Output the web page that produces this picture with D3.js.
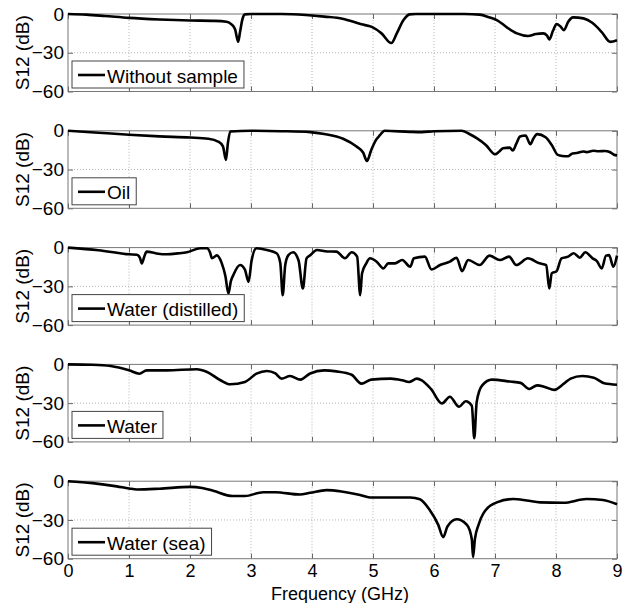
<!DOCTYPE html>
<html>
<head>
<meta charset="utf-8">
<script src="https://cdn.jsdelivr.net/npm/d3@7"></script>
<style>
  body { margin: 0; background: #fff; }
  text { font-family: "Liberation Sans", Arial, sans-serif; }
</style>
</head>
<body>
<script>
// S12 transmission curves, five samples, [frequency GHz, dB]

const labels = ["Without sample", "Oil", "Water (distilled)", "Water", "Water (sea)"];

const withoutSample = [[0,0],[0.3,-0.5],[0.6,-1.5],[1,-3],[1.5,-4.2],[2,-5],[2.4,-5.3],[2.6,-6],[2.68,-8],[2.74,-12],
  [2.79,-21.5],[2.82,-14],[2.86,-4],[2.9,-0.3],[3,0],[3.5,0],[3.9,-0.8],[4.2,-2],[4.5,-3.6],[4.81,-8],[4.98,-10],
  [5.14,-15],[5.3,-22.5],[5.39,-15],[5.5,-4.7],[5.6,-0.3],[5.7,0],[6.5,0],[6.75,-0.5],[6.9,-2.5],[7.03,-4.7],
  [7.2,-10.5],[7.36,-15],[7.54,-17],[7.67,-15.5],[7.79,-15],[7.85,-16.5],[7.89,-19.7],[7.95,-13],[8.01,-7.8],
  [8.07,-9.5],[8.13,-12.5],[8.2,-6],[8.28,-2.6],[8.45,-3.4],[8.6,-7],[8.75,-14],[8.89,-21.6],[9,-20.3]];

const oil = [[0,0],[0.5,-1.5],[1,-3],[1.5,-4.3],[2,-5.2],[2.3,-6.2],[2.46,-8.3],[2.54,-12],[2.59,-22.5],[2.62,-10],
  [2.66,-0.5],[3,0],[3.5,-0.3],[3.97,-1],[4.2,-2.5],[4.51,-6.2],[4.73,-12.2],[4.84,-17],[4.9,-23.4],[4.97,-15],
  [5.05,-7],[5.11,-3.6],[5.19,0],[5.6,-0.8],[5.8,-1],[6,-0.3],[6.45,0],[6.58,-2.5],[6.7,-5.7],[6.85,-11],[7.0,-18.2],
  [7.07,-16],[7.13,-13.5],[7.24,-13],[7.29,-15.3],[7.35,-10],[7.41,-4.4],[7.5,-3.6],[7.58,-10.4],[7.63,-6],
  [7.69,-2.6],[7.83,-5],[7.93,-11],[8.03,-18.7],[8.1,-19.5],[8.2,-19.7],[8.27,-17.5],[8.34,-17.2],[8.45,-16],
  [8.5,-16.5],[8.61,-15.4],[8.7,-15.8],[8.8,-15.6],[8.88,-16.4],[8.95,-18.5],[9,-19]];

const waterDistilled = [[0,0],[0.5,-2],[1,-5.2],[1.13,-5.5],[1.18,-8],[1.21,-12.2],[1.25,-7],[1.29,-3.1],[1.45,-4.5],
  [1.62,-5.2],[1.8,-4.5],[1.95,-3.6],[2.17,-0.5],[2.28,-0.5],[2.33,-4],[2.36,-8.3],[2.44,-6],[2.52,-12],[2.58,-22],
  [2.63,-35.6],[2.67,-26],[2.71,-21.3],[2.82,-13.5],[2.9,-17],[2.96,-26.5],[3.01,-10],[3.09,-0.5],[3.26,-1.8],
  [3.42,-4.4],[3.48,-12],[3.52,-36.9],[3.56,-14],[3.61,-6],[3.69,-3.6],[3.78,-10],[3.85,-31.7],[3.91,-8.3],
  [3.97,-6],[4.08,-1.8],[4.25,-3],[4.4,-3.1],[4.54,-8.3],[4.65,-3.6],[4.74,-7],[4.79,-36.9],[4.82,-20],[4.89,-12.2],
  [4.95,-8.3],[5.06,-10.9],[5.17,-16.1],[5.25,-12.2],[5.36,-12.2],[5.48,-9.6],[5.61,-14.8],[5.67,-8.3],[5.85,-7],
  [5.96,-17],[6.1,-13.5],[6.26,-10.9],[6.37,-7.8],[6.46,-18.2],[6.56,-9.6],[6.75,-13.5],[6.91,-6.2],[7.08,-9.6],
  [7.23,-7],[7.35,-13.5],[7.54,-8.3],[7.73,-12.2],[7.84,-13.5],[7.89,-31.7],[7.93,-20],[8.01,-18.2],[8.09,-8.3],
  [8.2,-7],[8.29,-4.4],[8.39,-7.8],[8.48,-3.6],[8.6,-8.3],[8.67,-10.4],[8.75,-16.1],[8.82,-6.2],[8.87,-5.8],
  [8.94,-14.8],[9,-6.2]];

const water = [[0,0],[0.4,-0.3],[0.7,-1.3],[1,-4.6],[1.17,-7.2],[1.29,-4.6],[1.62,-4.6],[2.11,-3.8],[2.28,-5.9],
  [2.5,-12.3],[2.66,-15.4],[2.9,-13.6],[3.09,-7.2],[3.26,-5.1],[3.4,-7],[3.5,-11],[3.64,-9],[3.81,-11.8],[3.97,-7],
  [4.2,-4.6],[4.4,-5.4],[4.65,-8],[4.81,-14.9],[4.97,-11.8],[5.29,-11],[5.48,-12.3],[5.59,-13.6],[5.72,-11],
  [5.8,-12.3],[5.95,-19],[6.13,-30.3],[6.26,-25.1],[6.41,-32.8],[6.52,-28.5],[6.62,-32],[6.66,-57.2],[6.7,-29],
  [6.79,-16.2],[6.95,-11.8],[7.25,-13.3],[7.42,-14.3],[7.56,-19],[7.69,-16.2],[7.83,-17.7],[7.97,-19.7],
  [8.13,-14.9],[8.24,-11],[8.43,-9],[8.62,-10.3],[8.79,-14.6],[9,-15.7]];

const waterSea = [[0,0],[0.4,-1.5],[0.8,-4],[1,-5.6],[1.13,-6.4],[1.5,-5.8],[2,-4.4],[2.2,-5.2],[2.38,-7.4],
  [2.7,-11.5],[2.9,-11.5],[3.2,-8.5],[3.4,-8.5],[3.8,-10.3],[3.97,-9],[4.24,-6.9],[4.51,-8.2],[4.79,-10.7],
  [4.95,-12.6],[5.61,-12.6],[5.77,-14],[5.93,-22.3],[6.07,-33.8],[6.15,-43.3],[6.22,-35.1],[6.37,-29.5],
  [6.54,-33.8],[6.62,-45],[6.64,-58.7],[6.67,-45],[6.73,-33.8],[6.81,-24.9],[7.03,-16.4],[7.3,-13.8],
  [7.52,-14.9],[7.74,-16.4],[8.12,-16.7],[8.5,-13.8],[8.77,-14.6],[9,-17.9]];

const series = [withoutSample, oil, waterDistilled, water, waterSea];
const xTicks = [0,1,2,3,4,5,6,7,8,9];
const yTicks = [0,-30,-60];

const width = 630, height = 603;
const left = 68, right = 617;
const panelTop = 14, panelStep = 116.8, panelH = 77.5;

const svg = d3.select("body").append("svg")
    .attr("width", width).attr("height", height);

const x = d3.scaleLinear().domain([0, 9]).range([left, right]);

series.forEach((data, i) => {
    const top = panelTop + i * panelStep;
    const y = d3.scaleLinear().domain([-60, 0]).range([top + panelH, top]);
    const g = svg.append("g");

    // dotted grid
    g.selectAll(".gx").data(xTicks.slice(1, -1)).enter().append("line")
        .attr("x1", d => x(d)).attr("x2", d => x(d))
        .attr("y1", top).attr("y2", top + panelH)
        .attr("stroke", "#b5b5b5").attr("stroke-dasharray", "1,2");
    g.append("line")
        .attr("x1", left).attr("x2", right)
        .attr("y1", y(-30)).attr("y2", y(-30))
        .attr("stroke", "#b5b5b5").attr("stroke-dasharray", "1,2");

    // axes with inward ticks
    const last = i === series.length - 1;
    const xb = g.append("g").attr("transform", `translate(0,${top + panelH})`)
        .call(d3.axisBottom(x).tickValues(xTicks).tickSize(-5).tickPadding(6)
            .tickFormat(last ? d3.format("d") : () => ""));
    const xt = g.append("g").attr("transform", `translate(0,${top})`)
        .call(d3.axisTop(x).tickValues(xTicks).tickSize(-5).tickFormat(() => ""));
    const yl = g.append("g").attr("transform", `translate(${left},0)`)
        .call(d3.axisLeft(y).tickValues(yTicks).tickSize(-5).tickPadding(4));
    const yr = g.append("g").attr("transform", `translate(${right},0)`)
        .call(d3.axisRight(y).tickValues(yTicks).tickSize(-5).tickFormat(() => ""));
    [xb, xt, yl, yr].forEach(a => {
        a.select(".domain").remove();
        a.selectAll("line").attr("stroke", "#666");
        a.selectAll("text").attr("font-size", 19).attr("fill", "#000");
    });
    xb.selectAll("text").attr("font-size", 18);

    g.append("rect")
        .attr("x", left).attr("y", top)
        .attr("width", right - left).attr("height", panelH)
        .attr("fill", "none").attr("stroke", "#777").attr("stroke-width", 1);

    // curve
    g.append("path").datum(data)
        .attr("fill", "none").attr("stroke", "#000")
        .attr("stroke-width", 2.6).attr("stroke-linejoin", "round")
        .attr("d", d3.line().x(d => x(d[0])).y(d => y(d[1])).curve(d3.curveMonotoneX));

    // y label
    g.append("text")
        .attr("transform", `translate(29,${top + panelH / 2}) rotate(-90)`)
        .attr("text-anchor", "middle").attr("font-size", 19)
        .text("S12 (dB)");

    // legend
    const lg = g.append("g");
    const box = lg.append("rect")
        .attr("x", 72).attr("y", top + 47).attr("height", 27)
        .attr("fill", "#fff").attr("stroke", "#444").attr("stroke-width", 1);
    lg.append("line")
        .attr("x1", 78).attr("x2", 105)
        .attr("y1", top + 61).attr("y2", top + 61)
        .attr("stroke", "#000").attr("stroke-width", 2.6);
    const t = lg.append("text")
        .attr("x", 107).attr("y", top + 68.5)
        .attr("font-size", 19).text(labels[i]);
    box.attr("width", 35 + t.node().getComputedTextLength() + 6);
});

svg.append("text")
    .attr("x", 340).attr("y", 599.5)
    .attr("text-anchor", "middle").attr("font-size", 18)
    .text("Frequency (GHz)");
</script>
</body>
</html>
